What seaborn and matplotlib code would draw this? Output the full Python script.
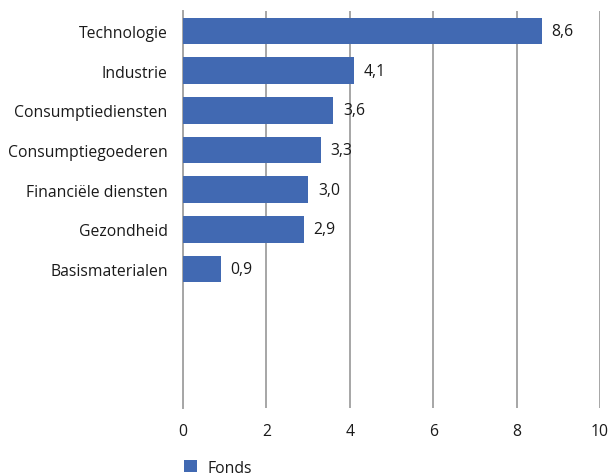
import matplotlib
matplotlib.use("Agg")
import matplotlib.pyplot as plt
from matplotlib.patches import Patch
import seaborn as sns
import pandas as pd

sectors = ["Technologie", "Industrie", "Consumptiediensten", "Consumptiegoederen",
           "Financiële diensten", "Gezondheid", "Basismaterialen"]
weights = [8.6, 4.1, 3.6, 3.3, 3.0, 2.9, 0.9]
series_name = "Fonds"
x_ticks = [0, 2, 4, 6, 8, 10]

bar_color = "#4169B2"
grid_color = "#A6A6A6"
text_color = "#1A1A1A"

sns.set_theme(style="white")
plt.rcParams["font.family"] = ["Open Sans", "DejaVu Sans"]

df = pd.DataFrame({"sector": sectors, "weight": weights})

fig = plt.figure(figsize=(6.11, 4.77), dpi=100)
ax = fig.add_axes([0.2995, 0.1426, 0.6825, 0.8322])

sns.barplot(data=df, y="sector", x="weight", orient="h", color=bar_color,
            saturation=1, width=0.67, ax=ax, zorder=3, linewidth=0)

# room for ten rows; only the first seven are filled
ax.set_ylim(9.5, -0.5)
ax.set_xlim(0, 10)
ax.set_xticks(x_ticks)
ax.set_xticklabels([str(t) for t in x_ticks])

ax.grid(axis="x", color=grid_color, linewidth=1.4, zorder=0)
ax.grid(axis="y", visible=False)
for side in ["top", "right", "bottom"]:
    ax.spines[side].set_visible(False)
ax.spines["left"].set_color(grid_color)
ax.spines["left"].set_linewidth(1.4)

fs = 11.3
ax.set_xlabel("")
ax.set_ylabel("")
ax.tick_params(axis="x", length=0, pad=11, labelsize=fs, labelcolor=text_color)
ax.tick_params(axis="y", length=0, pad=11, labelsize=fs, labelcolor=text_color)

for container in ax.containers:
    ax.bar_label(container, labels=[f"{v:.1f}".replace(".", ",") for v in weights],
                 padding=7, fontsize=fs, color=text_color)

handle = Patch(facecolor=bar_color, edgecolor="none")
fig.legend([handle], [series_name], loc="lower left",
           bbox_to_anchor=(0.278, -0.029), frameon=False, fontsize=fs,
           handlelength=0.8, handleheight=0.8, handletextpad=0.7,
           labelcolor=text_color)

fig.savefig("out.png", dpi=100)
